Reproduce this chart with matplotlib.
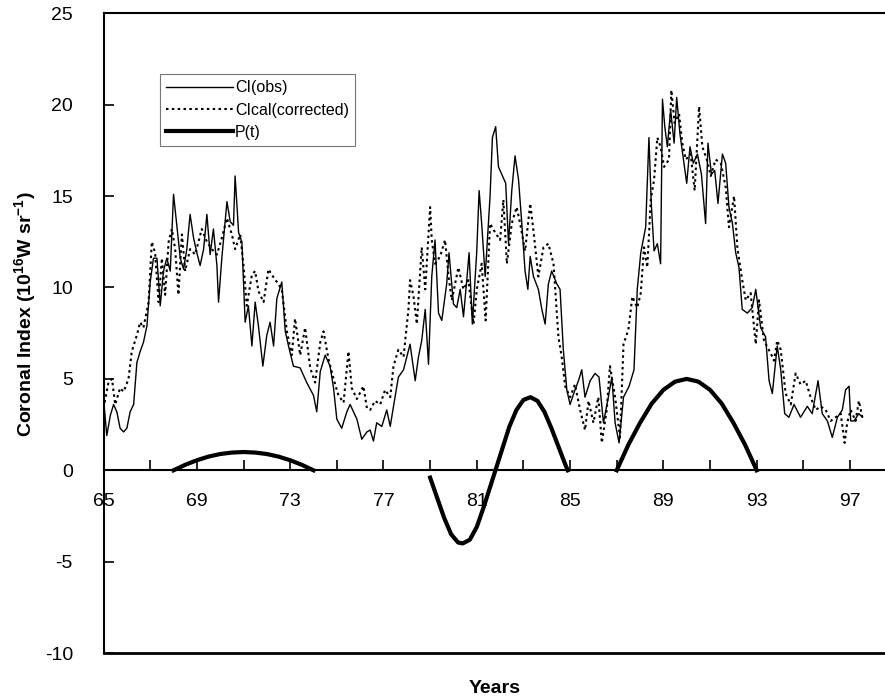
import numpy as np
import matplotlib.pyplot as plt

plt.rcParams['font.family'] = ['Liberation Sans', 'DejaVu Sans']
plt.rcParams['mathtext.fontset'] = 'custom'
plt.rcParams['mathtext.rm'] = 'Liberation Sans'
plt.rcParams['mathtext.bf'] = 'Liberation Sans:bold'
plt.rcParams['axes.unicode_minus'] = False

# CI(obs) - observed coronal index
obs_years = [65.00, 65.14, 65.29, 65.43, 65.57, 65.71, 65.86, 66.00, 66.14, 66.29, 66.43, 66.57, 66.71, 66.86,
             67.00, 67.14, 67.29, 67.43, 67.57, 67.71, 67.86, 68.00, 68.14, 68.29, 68.43, 68.57, 68.71, 68.86,
             69.00, 69.14, 69.29, 69.43, 69.57, 69.71, 69.86, 69.93, 70.07, 70.29, 70.43, 70.57, 70.64, 70.79,
             70.93, 71.00, 71.07, 71.21, 71.36, 71.50, 71.64, 71.83, 72.00, 72.14, 72.29, 72.43, 72.64, 72.79,
             72.93, 73.14, 73.43, 73.71, 74.00, 74.14, 74.29, 74.50, 74.71, 74.86, 75.00, 75.21, 75.43, 75.57,
             75.86, 76.07, 76.29, 76.43, 76.57, 76.71, 76.93, 77.14, 77.29, 77.43, 77.64, 77.86, 78.00, 78.14,
             78.36, 78.50, 78.64, 78.79, 78.93, 79.07, 79.21, 79.36, 79.50, 79.71, 79.81, 80.00, 80.14, 80.29,
             80.43, 80.57, 80.67, 80.81, 81.00, 81.10, 81.21, 81.36, 81.57, 81.67, 81.81, 81.93, 82.07, 82.24,
             82.36, 82.50, 82.64, 82.79, 82.93, 83.07, 83.19, 83.29, 83.43, 83.64, 83.79, 83.93, 84.07, 84.21,
             84.43, 84.57, 84.71, 84.86, 85.00, 85.21, 85.36, 85.50, 85.64, 85.86, 86.07, 86.24, 86.43, 86.64,
             86.79, 86.93, 87.10, 87.29, 87.53, 87.74, 87.88, 88.03, 88.24, 88.38, 88.48, 88.60, 88.74, 88.88,
             88.96, 89.06, 89.17, 89.31, 89.46, 89.57, 89.71, 89.86, 90.00, 90.14, 90.28, 90.46, 90.63, 90.81,
             90.91, 91.06, 91.20, 91.34, 91.53, 91.67, 91.81, 91.96, 92.10, 92.24, 92.38, 92.60, 92.81, 92.96,
             93.17, 93.38, 93.53, 93.67, 93.88, 94.03, 94.20, 94.38, 94.60, 94.88, 95.17, 95.38, 95.63, 95.81,
             96.03, 96.24, 96.46, 96.67, 96.81, 96.96, 97.03, 97.17, 97.38, 97.53]
obs_values = [3.9, 1.9, 3.0, 3.6, 3.2, 2.3, 2.1, 2.3, 3.2, 3.6, 5.9, 6.5, 7.0, 7.9,
              10.3, 11.6, 11.6, 9.0, 10.9, 11.6, 10.9, 15.1, 13.4, 11.6, 11.0, 12.1, 14.0, 12.7,
              11.9, 11.2, 12.1, 14.0, 11.8, 13.2, 11.2, 9.2, 11.6, 14.7, 13.6, 13.4, 16.1, 13.0,
              12.5, 10.3, 8.1, 9.0, 6.8, 9.2, 7.9, 5.7, 7.4, 8.1, 6.8, 9.4, 10.3, 7.6,
              6.8, 5.7, 5.6, 4.8, 4.1, 3.2, 5.4, 6.3, 5.7, 4.5, 2.8, 2.3, 3.2, 3.6,
              2.8, 1.7, 2.1, 2.2, 1.6, 2.6, 2.4, 3.3, 2.4, 3.5, 5.1, 5.5, 6.2, 6.9,
              4.9, 6.2, 7.1, 8.8, 5.8, 10.6, 12.6, 8.6, 8.2, 10.2, 11.9, 9.1, 8.9, 9.9,
              8.4, 10.4, 11.9, 8.0, 12.0, 15.3, 13.5, 10.6, 15.0, 18.2, 18.8, 16.6, 16.2, 15.7,
              12.4, 15.3, 17.2, 15.9, 13.5, 10.9, 9.9, 11.7, 10.6, 9.9, 8.8, 8.0, 10.2, 10.9,
              10.2, 9.9, 6.6, 4.4, 3.6, 4.4, 4.9, 5.5, 4.0, 4.9, 5.3, 5.1, 2.6, 4.0,
              5.1, 2.6, 1.5, 4.0, 4.6, 5.5, 9.9, 11.9, 13.3, 18.2, 14.6, 12.0, 12.4, 11.3,
              20.3, 18.8, 17.7, 19.7, 17.9, 20.4, 18.4, 17.0, 15.7, 17.7, 16.8, 17.3, 16.2, 13.5,
              17.9, 16.2, 16.4, 14.6, 17.3, 16.8, 14.4, 13.5, 11.9, 11.1, 8.8, 8.6, 8.9, 9.9,
              7.8, 7.3, 4.9, 4.2, 6.8, 5.5, 3.1, 2.9, 3.6, 2.9, 3.5, 3.1, 4.9, 3.1,
              2.7, 1.8, 2.9, 3.3, 4.4, 4.6, 2.7, 2.7, 3.1, 2.9]

# CIcal(corrected)
cal_years = [65.00, 65.21, 65.36, 65.50, 65.71, 65.86, 66.07, 66.21, 66.43, 66.57, 66.71, 66.93, 67.07, 67.21,
             67.36, 67.50, 67.64, 67.79, 67.93, 68.07, 68.21, 68.36, 68.50, 68.71, 68.93, 69.07, 69.21, 69.43,
             69.64, 69.86, 70.07, 70.29, 70.50, 70.64, 70.86, 71.00, 71.14, 71.36, 71.50, 71.64, 71.86, 72.07,
             72.21, 72.43, 72.64, 72.86, 73.07, 73.21, 73.43, 73.64, 73.86, 74.07, 74.29, 74.43, 74.64, 74.86,
             75.07, 75.29, 75.50, 75.64, 75.86, 76.14, 76.29, 76.43, 76.64, 76.86, 77.07, 77.29, 77.43, 77.64,
             77.86, 78.07, 78.14, 78.29, 78.43, 78.64, 78.79, 79.00, 79.07, 79.21, 79.43, 79.64, 79.79, 79.93,
             80.21, 80.43, 80.64, 80.86, 81.00, 81.21, 81.38, 81.57, 81.79, 82.00, 82.14, 82.29, 82.50, 82.71,
             82.86, 83.07, 83.29, 83.43, 83.64, 83.86, 84.07, 84.29, 84.50, 84.64, 84.79, 85.00, 85.21, 85.43,
             85.64, 85.79, 86.00, 86.21, 86.36, 86.57, 86.71, 86.93, 87.14, 87.29, 87.50, 87.67, 87.88, 88.03,
             88.17, 88.31, 88.46, 88.60, 88.74, 88.88, 89.03, 89.24, 89.34, 89.48, 89.67, 89.81, 89.96, 90.17,
             90.34, 90.53, 90.67, 90.86, 91.03, 91.24, 91.46, 91.67, 91.81, 92.03, 92.17, 92.38, 92.53, 92.74,
             92.96, 93.10, 93.31, 93.60, 93.74, 93.88, 94.03, 94.24, 94.46, 94.67, 94.88, 95.10, 95.31, 95.53,
             95.74, 95.96, 96.17, 96.38, 96.60, 96.77, 96.88, 97.03, 97.24, 97.38, 97.53]
cal_values = [3.4, 4.8, 5.0, 3.6, 4.5, 4.3, 5.0, 6.5, 7.4, 8.1, 7.8, 9.2, 12.5, 11.9,
              9.2, 11.6, 9.6, 12.5, 13.2, 12.1, 9.6, 12.9, 10.9, 12.1, 11.8, 12.5, 13.2, 12.5,
              12.1, 11.8, 12.7, 13.8, 12.9, 12.1, 12.9, 11.2, 9.0, 10.7, 10.9, 9.8, 9.2, 11.0,
              10.7, 10.3, 9.9, 7.6, 6.3, 8.3, 6.3, 7.8, 5.6, 4.8, 7.0, 7.6, 6.1, 5.0,
              4.1, 3.7, 6.5, 4.5, 3.9, 4.6, 3.4, 3.3, 3.8, 3.6, 4.4, 4.0, 5.7, 6.6,
              6.2, 8.8, 10.4, 9.5, 8.0, 12.2, 9.9, 14.4, 12.6, 11.3, 11.7, 12.6, 10.6, 9.3,
              11.1, 9.9, 10.4, 8.0, 9.9, 11.3, 8.2, 13.5, 13.0, 12.6, 14.8, 11.3, 13.5, 14.4,
              13.5, 12.0, 14.6, 13.1, 10.6, 12.2, 12.4, 11.3, 7.3, 6.2, 4.6, 4.0, 4.7, 3.3,
              2.2, 3.8, 2.6, 4.0, 1.5, 3.3, 5.7, 4.0, 1.8, 6.9, 7.7, 9.5, 8.9, 9.7,
              12.2, 11.1, 14.8, 15.9, 18.2, 17.7, 16.6, 17.0, 20.8, 19.0, 19.5, 17.9, 17.0, 17.3,
              15.3, 19.9, 17.7, 17.0, 16.1, 17.0, 16.8, 15.5, 13.3, 15.0, 12.2, 10.4, 9.3, 9.7,
              6.9, 9.3, 7.1, 6.4, 6.0, 7.1, 6.6, 4.2, 3.6, 5.3, 4.7, 4.9, 4.0, 3.3,
              3.5, 3.3, 2.7, 2.9, 3.1, 1.5, 2.6, 3.3, 2.7, 3.8, 2.9]

# P(t) - three separate arcs (NaN between them)
p_years = [68.0, 68.5, 69.0, 69.5, 70.0, 70.5, 71.0, 71.5, 72.0, 72.5, 73.0, 73.5, 74.0, np.nan,
           79.0, 79.3, 79.6, 79.9, 80.2, 80.4, 80.7, 81.0, 81.3, 81.6, 81.8, 82.1, 82.4, 82.7,
           83.0, 83.3, 83.6, 83.9, 84.2, 84.5, 84.8, 84.9, np.nan,
           87.0, 87.5, 88.0, 88.5, 89.0, 89.5, 90.0, 90.5, 91.0, 91.5, 92.0, 92.5, 93.0]
p_values = [0.0, 0.3, 0.55, 0.75, 0.89, 0.97, 1.0, 0.97, 0.89, 0.75, 0.55, 0.3, 0.0, np.nan,
            -0.4, -1.5, -2.6, -3.5, -3.95, -4.0, -3.8, -3.1, -2.0, -0.8, 0.0, 1.2, 2.4, 3.3,
            3.85, 4.0, 3.8, 3.2, 2.3, 1.3, 0.3, 0.0, np.nan,
            0.0, 1.4, 2.6, 3.65, 4.4, 4.85, 5.0, 4.85, 4.4, 3.65, 2.6, 1.4, 0.0]

fig = plt.figure(figsize=(8.85, 7), dpi=100)
ax = fig.add_axes([0.117, 0.067, 0.883, 0.914])

ax.plot(obs_years, obs_values, color='black', lw=1.0, label='CI(obs)')
ax.plot(cal_years, cal_values, color='black', lw=1.5, ls=(0, (1.2, 1.6)), label='CIcal(corrected)')
ax.plot(p_years, p_values, color='black', lw=3.0, label='P(t)')

ax.set_xlim(65, 98.5)
ax.set_ylim(-10, 25)

# x axis sits on y = 0, box closed at -10
ax.spines['bottom'].set_position(('data', 0))
ax.spines['right'].set_visible(False)
for s in ['bottom', 'top', 'left']:
    ax.spines[s].set_linewidth(1.5)
ax.axhline(-10, color='black', lw=2.0, clip_on=False)

ax.set_xticks(np.arange(65, 98, 4))
ax.set_xticks(np.arange(67, 98, 4), minor=True)
ax.set_yticks(np.arange(-10, 26, 5))
ax.tick_params(axis='x', which='both', direction='in', length=7, width=1.2, pad=16, labelsize=14)
ax.tick_params(axis='y', direction='in', length=7, width=1.2, pad=22, labelsize=14)

ax.set_ylabel('Coronal Index (10$^{\\mathbf{16}}$W sr$^{\\mathbf{-1}}$)', fontsize=14, fontweight='bold')
ax.yaxis.set_label_coords(-0.083, 0.53)
ax.text(0.5, -0.055, 'Years', transform=ax.transAxes, ha='center', va='center', fontsize=14, fontweight='bold')

leg = ax.legend(loc='upper left', bbox_to_anchor=(0.072, 0.905), fontsize=11.5, frameon=True, fancybox=False,
                handlelength=4.2, handletextpad=0.1, borderpad=0.4, labelspacing=0.45, borderaxespad=0)
leg.get_frame().set_edgecolor('#555555')
leg.get_frame().set_linewidth(0.8)

fig.savefig('out.png', dpi=100)
